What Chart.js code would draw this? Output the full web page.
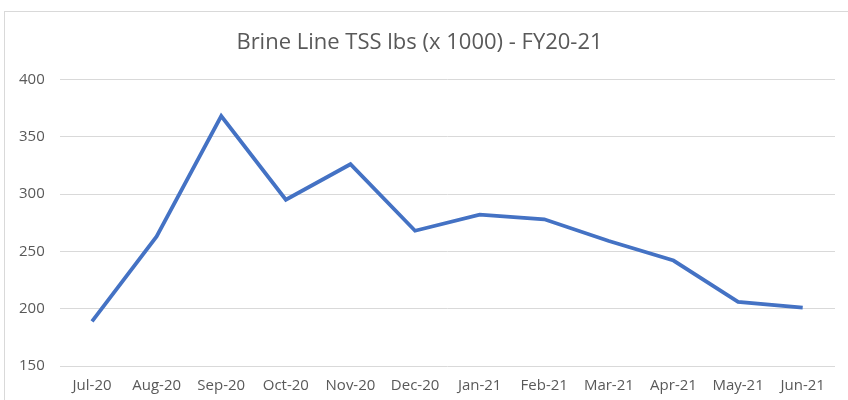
<!DOCTYPE html>
<html>
<head>
    <meta charset="UTF-8">
    <script src="https://cdn.jsdelivr.net/npm/chart.js@4.4.1/dist/chart.umd.min.js"></script>
    <style>
        body { margin:0; background:#fff; overflow:hidden; }
        #frame { position:absolute; left:4px; top:11px; width:860px; height:420px; border:1px solid #d9d9d9; }
        #wrap { position:absolute; left:0; top:0; width:848px; height:400px; }
    </style>
</head>
<body>
<div id="frame"></div>
<div id="wrap"><canvas id="tssChart"></canvas></div>

<script>
    const months = ['Jul-20','Aug-20','Sep-20','Oct-20','Nov-20','Dec-20','Jan-21','Feb-21','Mar-21','Apr-21','May-21','Jun-21'];
    const tssLbs = [189, 263, 368, 295, 326, 268, 282, 278, 259, 242, 206, 201];
    const yTicks = [150, 200, 250, 300, 350, 400];

    const tickFont = { family: "'Open Sans', 'Noto Sans', sans-serif", size: 15 };

    new Chart(document.getElementById('tssChart'), {
        type: 'line',
        data: {
            labels: months,
            datasets: [{
                label: 'TSS',
                data: tssLbs,
                borderColor: '#4472C4',
                borderWidth: 3.8,
                pointRadius: 0,
                tension: 0,
                fill: false
            }]
        },
        options: {
            responsive: true,
            maintainAspectRatio: false,
            animation: false,
            layout: { padding: { left: 4, right: 13, top: 0, bottom: 2 } },
            plugins: {
                legend: { display: false },
                tooltip: { enabled: false },
                title: {
                    display: true,
                    text: 'Brine Line TSS lbs (x 1000) - FY20-21',
                    color: '#595959',
                    font: { family: "'Open Sans', 'Noto Sans', sans-serif", size: 22, weight: 'normal' },
                    padding: { top: 30, bottom: 23 }
                }
            },
            scales: {
                x: {
                    offset: true,
                    grid: { display: false },
                    border: { display: false },
                    ticks: { color: '#595959', font: tickFont, padding: 3, maxRotation: 0 }
                },
                y: {
                    min: yTicks[0],
                    max: yTicks[yTicks.length - 1],
                    afterBuildTicks: function(axis) {
                        axis.ticks = yTicks.map(function(v) { return { value: v }; });
                    },
                    grid: { color: '#d9d9d9', lineWidth: 1, drawTicks: false },
                    border: { display: false },
                    ticks: { color: '#595959', font: tickFont, padding: 15 }
                }
            }
        }
    });
</script>
</body>
</html>
